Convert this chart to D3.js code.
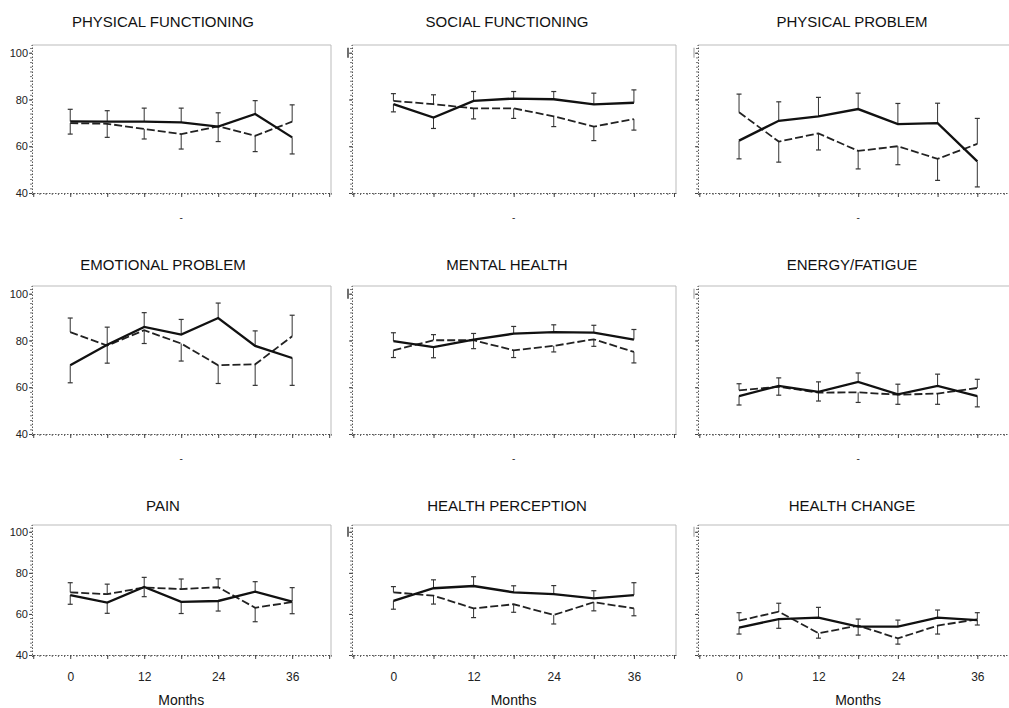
<!DOCTYPE html>
<html>
<head>
<meta charset="utf-8">
<script src="https://cdn.jsdelivr.net/npm/d3@7"></script>
<style>
  html, body { margin: 0; padding: 0; background: #fff; }
  svg { display: block; font-family: "Liberation Sans", Arial, Helvetica, sans-serif; }
</style>
</head>
<body>
<svg id="chart" width="1009" height="708"></svg>
<script>
// ---- data ----
const months = [0, 6, 12, 18, 24, 30, 36];
const titles = ["PHYSICAL FUNCTIONING", "SOCIAL FUNCTIONING", "PHYSICAL PROBLEM",
                "EMOTIONAL PROBLEM", "MENTAL HEALTH", "ENERGY/FATIGUE",
                "PAIN", "HEALTH PERCEPTION", "HEALTH CHANGE"];
const solidMeans = [
  [70.6, 70.5, 70.5, 70.2, 68.4, 73.8, 63.8],
  [78.0, 72.3, 79.4, 80.4, 80.1, 77.9, 78.6],
  [62.4, 70.9, 72.8, 75.9, 69.5, 69.9, 53.5],
  [69.4, 78.2, 85.8, 82.5, 89.6, 77.7, 72.5],
  [79.7, 77.2, 80.4, 82.9, 83.6, 83.4, 80.4],
  [56.2, 60.6, 58.0, 62.3, 57.0, 60.6, 56.2],
  [69.2, 65.5, 73.1, 65.9, 66.3, 70.8, 66.0],
  [66.4, 72.5, 73.6, 70.5, 69.6, 67.6, 69.2],
  [53.3, 57.5, 58.2, 53.8, 53.8, 58.2, 57.0]
];
const dashedMeans = [
  [69.9, 69.6, 67.4, 65.2, 68.5, 64.5, 70.5],
  [79.4, 78.0, 76.2, 76.2, 72.8, 68.4, 71.6],
  [74.5, 62.0, 65.5, 58.0, 60.0, 54.6, 61.0],
  [83.6, 77.8, 84.4, 78.7, 69.4, 69.8, 81.8],
  [75.8, 80.1, 80.1, 75.8, 77.7, 80.5, 75.1],
  [58.7, 60.2, 57.7, 57.8, 56.8, 57.3, 59.7],
  [70.5, 69.6, 72.9, 72.1, 73.0, 63.0, 65.8],
  [70.5, 68.9, 62.7, 64.7, 59.5, 65.7, 62.7],
  [56.7, 61.1, 50.6, 54.3, 48.1, 54.3, 57.4]
];
const solidErr = [
  [5.2, 4.7, 5.8, 6.1, 6.4, 5.7, 7.1],
  [3.3, 4.7, 4.0, 3.0, 3.3, 4.8, 5.5],
  [7.8, 8.1, 8.1, 6.8, 8.8, 8.5, 10.9],
  [7.5, 7.5, 6.1, 6.5, 6.4, 6.4, 11.7],
  [3.6, 4.6, 2.6, 3.1, 3.1, 3.1, 4.3],
  [3.8, 3.4, 4.3, 3.8, 4.3, 5.0, 4.6],
  [4.5, 5.2, 4.7, 5.7, 4.9, 4.9, 6.8],
  [4.1, 4.1, 4.5, 3.2, 4.2, 3.7, 6.0],
  [3.1, 4.5, 5.0, 4.1, 3.2, 3.7, 2.4]
];
const dashedErr = [
  [4.7, 5.8, 4.3, 6.4, 5.8, 6.8, 7.2],
  [3.1, 4.0, 4.5, 4.3, 4.4, 6.0, 4.7],
  [7.8, 8.8, 7.1, 7.7, 7.9, 9.2, 10.9],
  [6.0, 7.5, 5.7, 7.5, 7.8, 9.0, 9.0],
  [3.1, 2.4, 3.6, 3.1, 2.6, 3.0, 4.7],
  [2.8, 3.6, 3.6, 4.3, 4.1, 4.6, 3.7],
  [4.7, 4.9, 4.5, 4.9, 4.1, 6.8, 5.7],
  [2.8, 4.1, 4.5, 3.9, 4.4, 4.2, 3.6],
  [3.9, 4.1, 2.4, 3.2, 2.8, 4.1, 3.2]
];
const yTicks = [40, 60, 80, 100];
const xTicks = [0, 12, 24, 36];
const xAxisTitle = "Months";

// ---- layout ----
const colLeft = [32, 352, 698], colRight = [331, 676, 1019];
const rowTop = [45, 286, 525], rowBottom = [193, 434, 655];
const titleX = [163, 507, 852], titleY = [27, 270, 511];
const xDomain = [-6.2, 42.3], yDomain = [40, 103.3];

const svg = d3.select("#chart");
svg.append("rect").attr("width", 1009).attr("height", 708).attr("fill", "#fff");

titles.forEach((title, i) => {
  const r = Math.floor(i / 3), c = i % 3;
  const x = d3.scaleLinear().domain(xDomain).range([colLeft[c], colRight[c]]);
  const y = d3.scaleLinear().domain(yDomain).range([rowBottom[r], rowTop[r]]);
  const g = svg.append("g");

  // title
  g.append("text").attr("x", titleX[c]).attr("y", titleY[r])
    .attr("text-anchor", "middle").attr("font-size", 15).attr("fill", "#111")
    .text(title);

  // frame: top & right light grey
  g.append("path")
    .attr("d", `M${x(xDomain[0])},${y(yDomain[1])}H${x(xDomain[1])}V${y(yDomain[0])}`)
    .attr("fill", "none").attr("stroke", "#bbb").attr("stroke-width", 1);

  // bottom axis: minor ticks
  const xMinor = d3.range(-6, 43, 1);
  const xMajor = d3.range(-6, 43, 6);
  const xAxMinor = d3.axisBottom(x).tickValues(xMinor).tickSize(2).tickFormat("");
  const gxm = g.append("g").attr("transform", `translate(0,${y(yDomain[0])})`).call(xAxMinor);
  gxm.select(".domain").attr("stroke", "#555").attr("stroke-dasharray", "1.5,1.5");
  gxm.selectAll(".tick line").attr("stroke", "#666");
  const xAxMajor = d3.axisBottom(x).tickValues(xMajor).tickSize(4).tickSizeOuter(0)
    .tickFormat(d => (r === 2 && xTicks.includes(d)) ? d : "");
  const gx = g.append("g").attr("transform", `translate(0,${y(yDomain[0])})`).call(xAxMajor);
  gx.select(".domain").remove();
  gx.selectAll(".tick line").attr("stroke", "#444");
  gx.selectAll(".tick text").attr("font-size", 12).attr("fill", "#222")
    .attr("font-family", "Liberation Sans, Arial, sans-serif").attr("dy", "1.55em");

  // left axis
  const yMinor = d3.range(40, 104, 2);
  const yAxMinor = d3.axisLeft(y).tickValues(yMinor).tickSize(2).tickFormat("");
  const gym = g.append("g").attr("transform", `translate(${x(xDomain[0])},0)`).call(yAxMinor);
  gym.select(".domain").attr("stroke", "#555").attr("stroke-dasharray", "1.5,1.5");
  gym.selectAll(".tick line").attr("stroke", "#777");
  const yAxMajor = d3.axisLeft(y).tickValues(yTicks).tickSize(3).tickSizeOuter(0)
    .tickFormat(d => c === 0 ? d : "");
  const gy = g.append("g").attr("transform", `translate(${x(xDomain[0])},0)`).call(yAxMajor);
  gy.select(".domain").remove();
  gy.selectAll(".tick line").attr("stroke", "#444");
  gy.selectAll(".tick text").attr("font-size", 11).attr("fill", "#222")
    .attr("font-family", "Liberation Sans, Arial, sans-serif").attr("x", -4);

  // leftover label stub for columns without labels
  if (c > 0) {
    g.append("line")
      .attr("x1", x(xDomain[0]) - 4).attr("x2", x(xDomain[0]) - 4)
      .attr("y1", y(100) - 5).attr("y2", y(100) + 5)
      .attr("stroke", c === 1 ? "#333" : "#999").attr("stroke-width", c === 1 ? 1.4 : 1);
  }

  // x-axis label or small dash
  const xMid = (x(0) + x(36)) / 2;
  if (r === 2) {
    g.append("text").attr("x", xMid).attr("y", 705).attr("text-anchor", "middle")
      .attr("font-size", 14).attr("fill", "#111").text(xAxisTitle);
  } else {
    g.append("text").attr("x", xMid).attr("y", y(yDomain[0]) + 28).attr("text-anchor", "middle")
      .attr("font-size", 10).attr("fill", "#333").text("-");
  }

  // error bars: higher series upward, lower series downward
  const sM = solidMeans[i], dM = dashedMeans[i], sE = solidErr[i], dE = dashedErr[i];
  months.forEach((m, k) => {
    const solidUp = sM[k] >= dM[k];
    const segs = [
      [sM[k], sM[k] + (solidUp ? sE[k] : -sE[k])],
      [dM[k], dM[k] + (solidUp ? -dE[k] : dE[k])]
    ];
    segs.forEach(([v0, v1]) => {
      g.append("line").attr("x1", x(m)).attr("x2", x(m))
        .attr("y1", y(v0)).attr("y2", y(v1))
        .attr("stroke", "#333").attr("stroke-width", 1);
      g.append("line").attr("x1", x(m) - 2.5).attr("x2", x(m) + 2.5)
        .attr("y1", y(v1)).attr("y2", y(v1))
        .attr("stroke", "#333").attr("stroke-width", 1.2);
    });
  });

  const line = d3.line().x((d, k) => x(months[k])).y(d => y(d));
  g.append("path").datum(dM).attr("d", line).attr("fill", "none")
    .attr("stroke", "#222").attr("stroke-width", 1.8).attr("stroke-dasharray", "8,3");
  g.append("path").datum(sM).attr("d", line).attr("fill", "none")
    .attr("stroke", "#111").attr("stroke-width", 2.3);
});
</script>
</body>
</html>
